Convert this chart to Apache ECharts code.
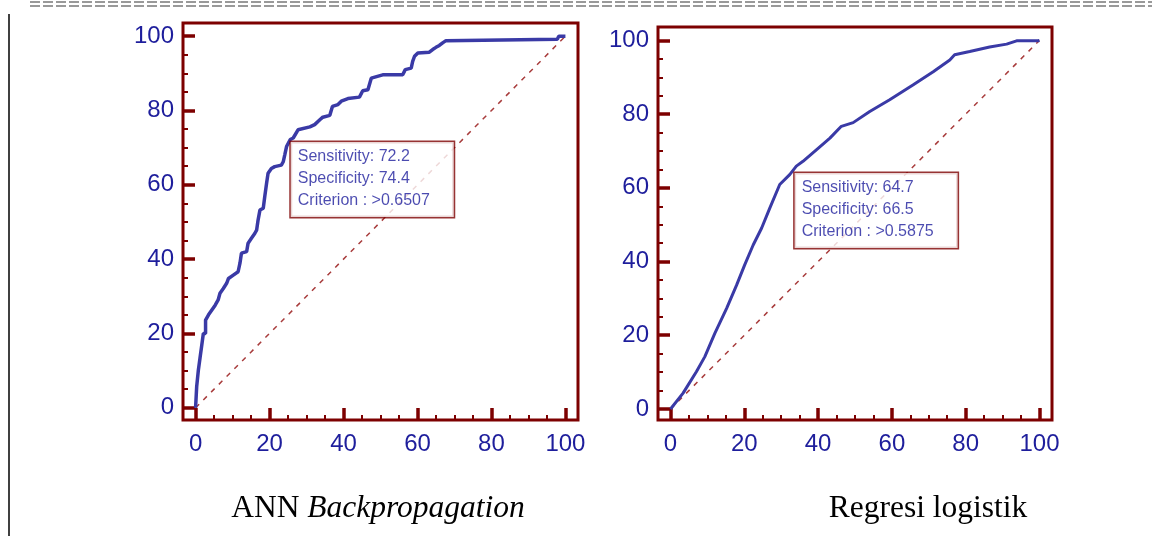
<!DOCTYPE html>
<html>
<head>
<meta charset="utf-8">
<title>Kurva ROC</title>
<script src="https://cdn.jsdelivr.net/npm/echarts@6.0.0/dist/echarts.min.js"></script>
<style>
html, body {margin: 0; padding: 0; background: #fff;}
#roc {width: 1163px; height: 536px;}
</style>
</head>
<body>
<div id="roc"></div>
<script>
// ANN Backpropagation : 100-Specificity (x), Sensitivity (y)
var annX = [0, 0.3, 0.3, 0.75, 0.75, 1.2, 1.2, 1.7, 1.7, 2.1, 2.7, 2.7, 3.5, 4.4, 5.3, 6.1, 6.6, 7.5, 8.4, 8.9, 10.2, 11.5, 12.0, 12.4, 13.8, 14.2, 15.1, 16.0, 16.5, 16.9, 17.4, 18.3, 18.7, 19.2, 19.6, 20.5, 21.4, 23.2, 23.7, 24.1, 24.6, 25.6, 26.4, 27.7, 28.2, 30.9, 32.2, 33.6, 34.4, 36.3, 37.0, 38.5, 39.4, 41.2, 41.6, 44.3, 45.2, 46.6, 47.5, 47.9, 50.6, 56.0, 56.7, 58.3, 58.7, 59.2, 60.1, 63.2, 64.1, 65.0, 65.9, 66.8, 67.7, 68.1, 97.8, 98.2, 100];
var annY = [0, 0.5, 5.7, 5.7, 10.1, 10.1, 13.4, 13.4, 17.0, 20.0, 20.0, 23.6, 25.0, 26.3, 27.6, 29.0, 30.8, 32.1, 33.5, 34.8, 35.7, 36.6, 38.9, 41.6, 42.0, 44.3, 45.6, 46.9, 47.8, 50.5, 53.2, 53.7, 56.8, 60.4, 63.1, 64.4, 64.9, 65.3, 66.2, 68.0, 70.3, 72.2, 72.6, 74.8, 75.3, 75.6, 76.2, 77.5, 78.2, 78.7, 81.1, 81.6, 82.5, 83.2, 83.6, 83.6, 85.3, 85.6, 88.7, 89.2, 89.6, 89.6, 91.0, 91.4, 93.2, 94.6, 95.5, 95.7, 96.4, 97.0, 97.5, 98.2, 98.8, 99.2, 99.2, 100, 100];
// Regresi logistik
var logX = [0, 3.4, 7.0, 9.3, 12.0, 15.2, 17.9, 20.1, 22.4, 24.7, 26.9, 29.6, 32.3, 34.1, 35.9, 39.6, 43.2, 46.3, 49.5, 54.0, 59.4, 65.7, 71.2, 75.7, 77.0, 81.1, 86.5, 91.1, 93.8, 99.6, 100];
var logY = [0, 4.3, 10.1, 14.2, 20.5, 27.3, 33.6, 39.1, 44.5, 49.1, 54.5, 60.9, 63.6, 65.9, 67.2, 70.4, 73.5, 76.7, 77.7, 80.7, 83.9, 87.9, 91.5, 94.7, 96.1, 97.0, 98.2, 99.0, 99.9, 99.9, 100];
// garis referensi
var diagX = [0, 100];
var diagY = [0, 100];
// tick
var majorTicks = [0, 20, 40, 60, 80, 100];
var minorTicks = [5, 10, 15, 25, 30, 35, 45, 50, 55, 65, 70, 75, 85, 90, 95];
// titik kriteria
var annCut = [25.6, 72.2];
var annText = ['Sensitivity: 72.2', 'Specificity: 74.4', 'Criterion : >0.6507'];
var logCut = [33.5, 64.7];
var logText = ['Sensitivity: 64.7', 'Specificity: 66.5', 'Criterion : >0.5875'];
var captions = ['ANN', 'Backpropagation', 'Regresi logistik'];

var frameColor = '#7d0000';
var blue = '#3a3aa6';
var labelBlue = '#1e1e9c';

function pairs(xs, ys) {
    var out = [];
    for (var i = 0; i < xs.length; i++) {
        out.push([xs[i], ys[i]]);
    }
    return out;
}

// sumbu utama (label + tick besar) dan sumbu tick kecil
function axisPair(grid, min, max, isX) {
    var major = {
        type: 'value', gridIndex: grid, min: min, max: max,
        position: isX ? 'bottom' : 'left',
        axisLine: {show: false, onZero: false},
        splitLine: {show: false},
        axisTick: {show: true, inside: true, length: 12, customValues: majorTicks,
            lineStyle: {color: frameColor, width: 3.5}},
        axisLabel: {show: true, customValues: majorTicks, color: labelBlue, fontSize: 24,
            fontFamily: 'Liberation Sans, Arial', margin: isX ? 12 : 9}
    };
    var minor = {
        type: 'value', gridIndex: grid, min: min, max: max,
        position: isX ? 'bottom' : 'left',
        axisLine: {show: false, onZero: false},
        splitLine: {show: false},
        axisTick: {show: true, inside: true, length: 5, customValues: minorTicks,
            lineStyle: {color: frameColor, width: 2}},
        axisLabel: {show: false}
    };
    return [major, minor];
}

function cutLabel(lines) {
    return {
        show: true,
        position: [1, 3],
        align: 'left',
        verticalAlign: 'top',
        formatter: lines.join('\n'),
        color: labelBlue,
        fontSize: 16,
        fontFamily: 'Liberation Sans, Arial',
        lineHeight: 22,
        width: 148,
        backgroundColor: '#fff',
        borderColor: frameColor,
        borderWidth: 1.5,
        padding: [4, 8, 5, 7]
    };
}

function rocSeries(ax, xs, ys, width, cut, text) {
    return [{
        type: 'line', xAxisIndex: ax, yAxisIndex: ax,
        data: pairs(diagX, diagY), symbol: 'none', silent: true,
        lineStyle: {color: '#a83c3c', width: 1.5, type: [5, 6]}
    }, {
        type: 'line', xAxisIndex: ax, yAxisIndex: ax,
        data: pairs(xs, ys), symbol: 'none',
        lineStyle: {color: blue, width: width}
    }, {
        type: 'scatter', xAxisIndex: ax, yAxisIndex: ax,
        data: [cut], symbolSize: 1,
        itemStyle: {color: 'rgba(0,0,0,0)'},
        label: cutLabel(text), z: 5
    }];
}

var chart = echarts.init(document.getElementById('roc'));
var serif = {fontFamily: 'Liberation Serif', fontSize: 31.5, fontWeight: 'normal', color: '#000'};
var option = {
    animation: false,
    backgroundColor: '#fff',
    title: [{
        text: '{n|' + captions[0] + ' }{i|' + captions[1] + '}',
        left: 373, top: 488, textAlign: 'center',
        textStyle: {fontWeight: 'normal', rich: {
            n: serif,
            i: echarts.util.extend({fontStyle: 'italic'}, serif)
        }}
    }, {
        text: captions[2],
        left: 923, top: 488, textAlign: 'center',
        textStyle: serif
    }],
    grid: [
        {left: 183, top: 23, width: 395, height: 397, show: true, borderColor: frameColor, borderWidth: 3},
        {left: 658, top: 27, width: 394, height: 393, show: true, borderColor: frameColor, borderWidth: 3}
    ],
    xAxis: axisPair(0, -3.4, 103.4, true).concat(axisPair(1, -3.4, 103.4, true)),
    yAxis: axisPair(0, -3.3, 103.55, false).concat(axisPair(1, -3.0, 103.65, false)),
    graphic: [
        {type: 'line', shape: {x1: 30, y1: 2, x2: 1152, y2: 2}, style: {stroke: '#999', lineWidth: 2, lineDash: [10, 3]}},
        {type: 'line', shape: {x1: 30, y1: 6, x2: 1152, y2: 6}, style: {stroke: '#999', lineWidth: 2, lineDash: [10, 3]}},
        {type: 'line', shape: {x1: 9, y1: 14, x2: 9, y2: 536}, style: {stroke: '#000', lineWidth: 1.5}}
    ],
    series: rocSeries(0, annX, annY, 3.5, annCut, annText)
        .concat(rocSeries(2, logX, logY, 3, logCut, logText))
};
chart.setOption(option);
</script>
</body>
</html>
